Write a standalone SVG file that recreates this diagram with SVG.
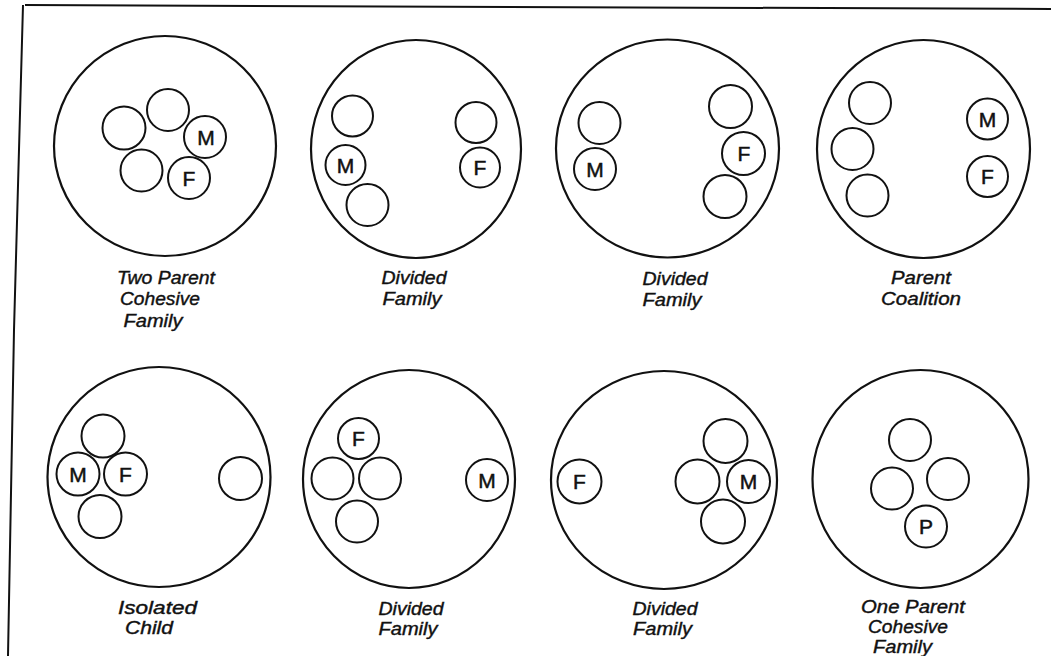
<svg xmlns="http://www.w3.org/2000/svg" width="1051" height="656" viewBox="0 0 1051 656">
<style>
.big{fill:none;stroke:#111;stroke-width:2.2}
.sm{fill:#fff;stroke:#111;stroke-width:2}
.lt{font-family:"Liberation Sans",Arial,sans-serif;font-size:21px;fill:#111;stroke:#111;stroke-width:0.5;text-anchor:middle;dominant-baseline:central}
.lab{font-family:"Liberation Sans",Arial,sans-serif;font-style:italic;font-size:18px;fill:#111;stroke:#111;stroke-width:0.4;text-anchor:middle}
.frame{fill:none;stroke:#111;stroke-width:2}
</style>
<rect width="1051" height="656" fill="#fff"/>
<path class="frame" d="M25,5 L1051,9 M23,5 L14,330 L8,656"/>
<g id="connectors"/>

<g id="two-parent-cohesive">
<ellipse class="big" cx="165" cy="146" rx="111" ry="110"/>
<circle class="sm" cx="124" cy="128" r="21.5"/>
<circle class="sm" cx="168" cy="110" r="21"/>
<circle class="sm" cx="205" cy="137" r="21"/>
<circle class="sm" cx="141.5" cy="170.5" r="21"/>
<circle class="sm" cx="189" cy="178" r="21"/>
<text class="lt" x="206" y="137">M</text>
<text class="lt" x="189" y="178">F</text>
<text class="lab" x="166" y="284" textLength="98" lengthAdjust="spacingAndGlyphs">Two Parent</text>
<text class="lab" x="160" y="305" textLength="80" lengthAdjust="spacingAndGlyphs">Cohesive</text>
<text class="lab" x="153" y="327" textLength="59" lengthAdjust="spacingAndGlyphs">Family</text>
</g>

<g id="divided-family-1">
<ellipse class="big" cx="416" cy="149" rx="105" ry="109"/>
<circle class="sm" cx="352.5" cy="116" r="20.5"/>
<circle class="sm" cx="345.5" cy="165" r="20"/>
<circle class="sm" cx="367.5" cy="205" r="21"/>
<circle class="sm" cx="476" cy="122.5" r="20.5"/>
<circle class="sm" cx="480" cy="167.5" r="20"/>
<text class="lt" x="345.5" y="165">M</text>
<text class="lt" x="480" y="167.5">F</text>
<text class="lab" x="414" y="284" textLength="65" lengthAdjust="spacingAndGlyphs">Divided</text>
<text class="lab" x="412" y="305" textLength="59" lengthAdjust="spacingAndGlyphs">Family</text>
</g>

<g id="divided-family-2">
<ellipse class="big" cx="667.5" cy="148.5" rx="111.5" ry="109"/>
<circle class="sm" cx="599.5" cy="123" r="21"/>
<circle class="sm" cx="595" cy="169" r="21"/>
<circle class="sm" cx="730.5" cy="106.5" r="21.5"/>
<circle class="sm" cx="743.5" cy="153.5" r="21.5"/>
<circle class="sm" cx="725" cy="196.5" r="21.5"/>
<text class="lt" x="595" y="169">M</text>
<text class="lt" x="744" y="153.5">F</text>
<text class="lab" x="675" y="285" textLength="65" lengthAdjust="spacingAndGlyphs">Divided</text>
<text class="lab" x="672" y="306" textLength="59" lengthAdjust="spacingAndGlyphs">Family</text>
</g>

<g id="parent-coalition">
<ellipse class="big" cx="923.5" cy="149" rx="106.5" ry="109"/>
<circle class="sm" cx="870" cy="103" r="21"/>
<circle class="sm" cx="852.5" cy="149" r="21"/>
<circle class="sm" cx="867.5" cy="195.5" r="21"/>
<circle class="sm" cx="987.5" cy="119" r="20.5"/>
<circle class="sm" cx="987.5" cy="176.5" r="20.5"/>
<text class="lt" x="987.5" y="119">M</text>
<text class="lt" x="987.5" y="176.5">F</text>
<text class="lab" x="921" y="284" textLength="60" lengthAdjust="spacingAndGlyphs">Parent</text>
<text class="lab" x="921" y="305" textLength="80" lengthAdjust="spacingAndGlyphs">Coalition</text>
</g>

<g id="isolated-child">
<ellipse class="big" cx="159" cy="477" rx="111.5" ry="110"/>
<circle class="sm" cx="103" cy="436" r="21.5"/>
<circle class="sm" cx="78" cy="474" r="21.5"/>
<circle class="sm" cx="125.5" cy="474" r="21.5"/>
<circle class="sm" cx="100" cy="516.5" r="21.5"/>
<circle class="sm" cx="240.5" cy="478.5" r="21.5"/>
<text class="lt" x="78" y="474">M</text>
<text class="lt" x="125.5" y="474">F</text>
<text class="lab" x="157.5" y="614" textLength="79" lengthAdjust="spacingAndGlyphs">Isolated</text>
<text class="lab" x="149" y="634" textLength="48" lengthAdjust="spacingAndGlyphs">Child</text>
</g>

<g id="divided-family-3">
<ellipse class="big" cx="409" cy="479" rx="106" ry="109"/>
<circle class="sm" cx="358.5" cy="438.5" r="20.5"/>
<circle class="sm" cx="332.5" cy="478.5" r="21"/>
<circle class="sm" cx="380" cy="478.5" r="21"/>
<circle class="sm" cx="357" cy="521.5" r="21"/>
<circle class="sm" cx="487" cy="480" r="21"/>
<text class="lt" x="358.5" y="438.5">F</text>
<text class="lt" x="487" y="480">M</text>
<text class="lab" x="411" y="615" textLength="65" lengthAdjust="spacingAndGlyphs">Divided</text>
<text class="lab" x="408" y="635" textLength="59" lengthAdjust="spacingAndGlyphs">Family</text>
</g>

<g id="divided-family-4">
<ellipse class="big" cx="664" cy="480" rx="113" ry="109"/>
<circle class="sm" cx="579.5" cy="481.5" r="22"/>
<circle class="sm" cx="725.5" cy="441" r="22"/>
<circle class="sm" cx="697.5" cy="481.5" r="22"/>
<circle class="sm" cx="748.5" cy="481.5" r="21.5"/>
<circle class="sm" cx="723" cy="521.5" r="22"/>
<text class="lt" x="579.5" y="481.5">F</text>
<text class="lt" x="748.5" y="481.5">M</text>
<text class="lab" x="665" y="615" textLength="65" lengthAdjust="spacingAndGlyphs">Divided</text>
<text class="lab" x="662.5" y="635" textLength="59" lengthAdjust="spacingAndGlyphs">Family</text>
</g>

<g id="one-parent-cohesive">
<ellipse class="big" cx="920.5" cy="479" rx="108" ry="109"/>
<circle class="sm" cx="910" cy="440" r="21"/>
<circle class="sm" cx="892" cy="488.5" r="21"/>
<circle class="sm" cx="948" cy="479" r="21"/>
<circle class="sm" cx="926" cy="526.5" r="21"/>
<text class="lt" x="926" y="526.5">P</text>
<text class="lab" x="913" y="613" textLength="104" lengthAdjust="spacingAndGlyphs">One Parent</text>
<text class="lab" x="908" y="633" textLength="80" lengthAdjust="spacingAndGlyphs">Cohesive</text>
<text class="lab" x="902.5" y="653" textLength="59" lengthAdjust="spacingAndGlyphs">Family</text>
</g>
</svg>
